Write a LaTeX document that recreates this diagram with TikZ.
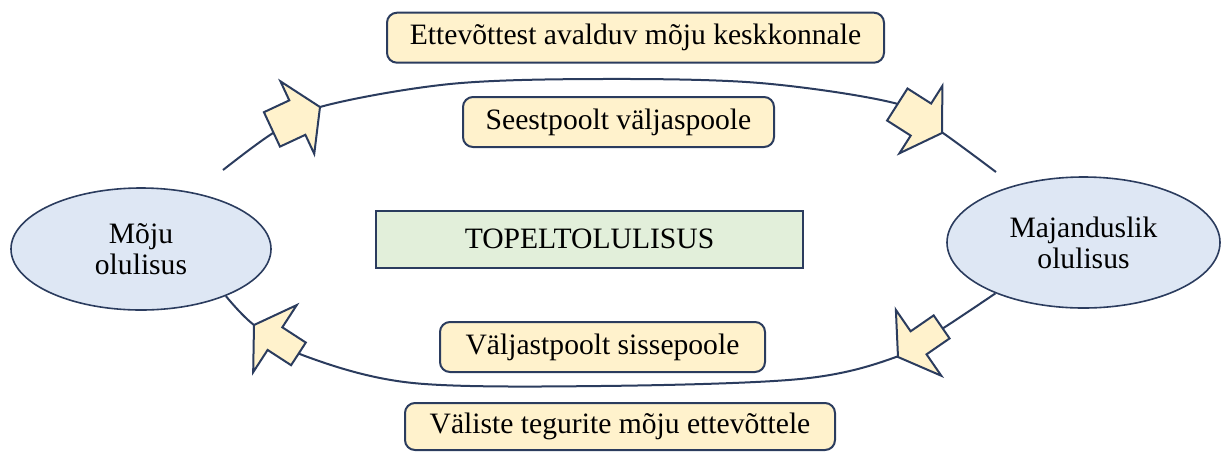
\documentclass[tikz,border=0pt]{standalone}
\usepackage{fontspec}
\setmainfont{Liberation Serif}
\usetikzlibrary{shapes.geometric}

\definecolor{navy}{HTML}{2B3C5E}
\definecolor{boxfill}{HTML}{FFF2CC}
\definecolor{ellfill}{HTML}{DEE7F4}
\definecolor{greenfill}{HTML}{E2EFDA}

% block arrow with its tip at #1, pointing along angle #2, shaft half-width #3
\newcommand\fatarrow[3]{%
  \filldraw[fat arrow, shift={#1}, rotate=#2]
    (0,0) -- (-25,40) -- (-25,#3) -- (-53,#3) -- (-53,-#3) -- (-25,-#3) -- (-25,-40) -- cycle;}

\begin{document}
\begin{tikzpicture}[x=0.5pt, y=-0.5pt,
  every node/.style={font=\rmfamily\fontsize{14.8}{15.5}\selectfont, text=black},
  label box/.style={draw=navy, fill=boxfill, line width=1pt, rounded corners=5pt,
    inner sep=0pt},
  topic/.style={ellipse, draw=navy, fill=ellfill, line width=0.8pt, inner sep=0pt,
    align=center},
  core/.style={draw=navy, fill=greenfill, line width=0.9pt, inner sep=0pt},
  cycle line/.style={draw=navy, line width=1pt},
  fat arrow/.style={draw=navy, fill=boxfill, line width=1pt, line join=miter}
]
\useasboundingbox (0,0) rectangle (1222,452);

% two topics and the central label
\node[topic, minimum width=130pt, minimum height=61pt] (moju) at (141,249) {Mõju\\olulisus};
\node[topic, minimum width=136.5pt, minimum height=65.5pt] (maj) at (1083.5,242.5) {Majanduslik\\olulisus};
\node[core, minimum width=213.3pt, minimum height=28.5pt] (topel) at (589.5,239.2) {TOPELTOLULISUS};

% upper path: from inside outwards
\coordinate (t1) at (223,170);
\coordinate (t2) at (270,135);
\coordinate (t3) at (320,107);
\coordinate (t4) at (450,84);
\coordinate (t5) at (600,79);
\coordinate (t6) at (760,83);
\coordinate (t7) at (898,104);
\coordinate (t8) at (943,133);
\coordinate (t9) at (996,172);
\draw[cycle line] plot[smooth, tension=0.55] coordinates {(t1) (t2) (t3) (t4) (t5) (t6) (t7) (t8) (t9)};

% lower path: from outside inwards
\coordinate (b1) at (maj.210);
\coordinate (b2) at (945,327);
\coordinate (b3) at (896,357);
\coordinate (b4) at (800,379);
\coordinate (b5) at (600,386);
\coordinate (b6) at (413,383);
\coordinate (b7) at (305,356);
\coordinate (b8) at (254,325);
\coordinate (b9) at (moju.-29);
\draw[cycle line] plot[smooth, tension=0.55] coordinates {(b1) (b2) (b3) (b4) (b5) (b6) (b7) (b8) (b9)};

% direction markers on the paths
\fatarrow{(t3)}{25}{19}
\fatarrow{(942,133)}{-32.5}{19}
\fatarrow{(898,357)}{-145.4}{14}
\fatarrow{(254,325)}{147}{13.5}

% labels along the paths
\node[label box, minimum width=248.5pt, minimum height=25pt] (out1) at (635.5,37.7) {Ettevõttest avalduv mõju keskkonnale};
\node[label box, minimum width=155.5pt, minimum height=25pt] (out2) at (618.5,122) {Seestpoolt väljaspoole};
\node[label box, minimum width=162.5pt, minimum height=25pt] (in1) at (602.5,347) {Väljastpoolt sissepoole};
\node[label box, minimum width=215pt, minimum height=23.5pt] (in2) at (620,426.5) {Väliste tegurite mõju ettevõttele};
\end{tikzpicture}
\end{document}
